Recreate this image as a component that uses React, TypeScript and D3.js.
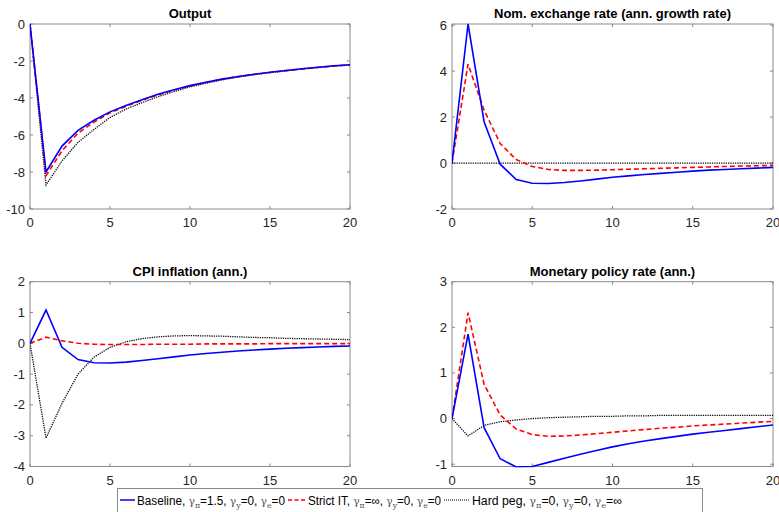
import React from 'react';
import * as d3 from 'd3';

const periods = [0, 1, 2, 3, 4, 5, 6, 7, 8, 9, 10, 11, 12, 13, 14, 15, 16, 17, 18, 19, 20];

const outputBaseline = [0, -8.0, -6.6, -5.75, -5.2, -4.75, -4.4, -4.1, -3.8, -3.55, -3.33, -3.15, -2.98, -2.84, -2.72, -2.61, -2.51, -2.42, -2.34, -2.26, -2.2];
const outputStrict = [0, -8.2, -6.85, -5.9, -5.3, -4.8, -4.45, -4.12, -3.83, -3.57, -3.35, -3.16, -2.99, -2.85, -2.73, -2.62, -2.52, -2.43, -2.35, -2.27, -2.21];
const outputPeg = [0, -8.7, -7.4, -6.4, -5.7, -5.05, -4.6, -4.25, -3.93, -3.65, -3.4, -3.2, -3.02, -2.87, -2.74, -2.63, -2.53, -2.44, -2.35, -2.28, -2.22];

const fxBaseline = [0, 6.05, 1.8, -0.05, -0.72, -0.88, -0.89, -0.85, -0.78, -0.7, -0.62, -0.56, -0.5, -0.45, -0.4, -0.35, -0.31, -0.28, -0.25, -0.22, -0.19];
const fxStrict = [0, 4.3, 2.3, 0.85, 0.15, -0.15, -0.28, -0.32, -0.32, -0.31, -0.29, -0.27, -0.25, -0.23, -0.21, -0.19, -0.17, -0.15, -0.13, -0.12, -0.1];
const fxPeg = [0, 0, 0, 0, 0, 0, 0, 0, 0, 0, 0, 0, 0, 0, 0, 0, 0, 0, 0, 0, 0];

const cpiBaseline = [0, 1.08, -0.13, -0.53, -0.63, -0.64, -0.61, -0.56, -0.5, -0.44, -0.38, -0.33, -0.29, -0.25, -0.22, -0.19, -0.16, -0.14, -0.12, -0.1, -0.09];
const cpiStrict = [0, 0.2, 0.08, 0.0, -0.03, -0.04, -0.04, -0.04, -0.03, -0.03, -0.03, -0.02, -0.02, -0.02, -0.02, -0.01, -0.01, -0.01, -0.01, -0.01, -0.01];
const cpiPeg = [0, -3.08, -1.95, -1.0, -0.45, -0.13, 0.05, 0.15, 0.21, 0.24, 0.25, 0.24, 0.23, 0.21, 0.19, 0.18, 0.16, 0.15, 0.14, 0.13, 0.12];

const rateBaseline = [0, 1.85, -0.2, -0.88, -1.06, -1.05, -0.96, -0.87, -0.78, -0.7, -0.62, -0.55, -0.49, -0.44, -0.39, -0.34, -0.3, -0.26, -0.22, -0.18, -0.14];
const rateStrict = [0, 2.32, 0.75, 0.08, -0.23, -0.35, -0.39, -0.38, -0.36, -0.33, -0.3, -0.27, -0.24, -0.21, -0.19, -0.16, -0.14, -0.12, -0.1, -0.08, -0.06];
const ratePeg = [0, -0.38, -0.15, -0.07, -0.03, 0.0, 0.02, 0.03, 0.04, 0.05, 0.05, 0.06, 0.06, 0.07, 0.07, 0.07, 0.07, 0.07, 0.07, 0.07, 0.07];

const xTicks = [0, 5, 10, 15, 20];
const outputTicks = [0, -2, -4, -6, -8, -10];
const fxTicks = [-2, 0, 2, 4, 6];
const cpiTicks = [2, 1, 0, -1, -2, -3, -4];
const rateTicks = [3, 2, 1, 0, -1];

const titles = ['Output', 'Nom. exchange rate (ann. growth rate)', 'CPI inflation (ann.)', 'Monetary policy rate (ann.)'];

const FONT = '"Liberation Sans", Arial, Helvetica, sans-serif';
const AXIS = '#8a8a8a';
const TXT = '#262626';

type Box = { x0: number; x1: number; y0: number; y1: number };

function Panel({ box, title, yDomain, yTicks, base, strict, peg, id }: {
  box: Box; title: string; yDomain: [number, number]; yTicks: number[];
  base: number[]; strict: number[]; peg: number[]; id: string;
}) {
  const x = d3.scaleLinear().domain([0, 20]).range([box.x0, box.x1]);
  const y = d3.scaleLinear().domain(yDomain).range([box.y1, box.y0]);
  const line = (vals: number[]) =>
    d3.line<number>().x((_, i) => x(periods[i])).y((v) => y(v))(vals) || '';
  const tl = 3;
  return (
    <g>
      <defs>
        <clipPath id={id}>
          <rect x={box.x0} y={box.y0 - 1} width={box.x1 - box.x0} height={box.y1 - box.y0 + 2} />
        </clipPath>
      </defs>
      <text x={(box.x0 + box.x1) / 2} y={box.y0 - 6} textAnchor="middle" fontFamily={FONT}
        fontSize={13} fontWeight="bold" fill="#000">{title}</text>
      <rect x={box.x0} y={box.y0} width={box.x1 - box.x0} height={box.y1 - box.y0}
        fill="#fff" stroke={AXIS} strokeWidth={1} />
      {xTicks.map((t) => (
        <g key={'x' + t}>
          <line x1={x(t)} x2={x(t)} y1={box.y1} y2={box.y1 - tl} stroke={AXIS} />
          <line x1={x(t)} x2={x(t)} y1={box.y0} y2={box.y0 + tl} stroke={AXIS} />
          <text x={x(t)} y={box.y1 + 18} textAnchor="middle" fontFamily={FONT} fontSize={13} fill={TXT}>{t}</text>
        </g>
      ))}
      {yTicks.map((t) => (
        <g key={'y' + t}>
          <line x1={box.x0} x2={box.x0 + tl} y1={y(t)} y2={y(t)} stroke={AXIS} />
          <line x1={box.x1} x2={box.x1 - tl} y1={y(t)} y2={y(t)} stroke={AXIS} />
          <text x={box.x0 - 5} y={y(t) + 4.5} textAnchor="end" fontFamily={FONT} fontSize={13} fill={TXT}>{t}</text>
        </g>
      ))}
      <g clipPath={`url(#${id})`} fill="none">
        <path d={line(peg)} stroke="#111" strokeWidth={1.3} strokeDasharray="1.3 1" />
        <path d={line(strict)} stroke="#ff0000" strokeWidth={1.6} strokeDasharray="5 3" />
        <path d={line(base)} stroke="#0000ff" strokeWidth={1.6} />
      </g>
    </g>
  );
}

function Gamma({ sub, rest }: { sub: string; rest: string }) {
  return (
    <>
      <tspan fontFamily='"DejaVu Serif", serif' fontSize={11} fill="#555">γ</tspan>
      <tspan dy={3.5} fontSize={8} fontFamily='"DejaVu Serif", serif' fill="#555">{sub}</tspan>
      <tspan dy={-3.5}>{rest}</tspan>
    </>
  );
}

export default function App() {
  const L = 30, R = 350, L2 = 452, R2 = 773;
  const T1 = 24, B1 = 209, T2 = 281.7, B2 = 466.5;
  return (
    <svg width={779} height={512} style={{ position: 'absolute', left: 0, top: 0, background: '#fff' }}>
      <rect x={0} y={0} width={779} height={512} fill="#fff" />
      <Panel id="c1" box={{ x0: L, x1: R, y0: T1, y1: B1 }} title={titles[0]} yDomain={[-10, 0]} yTicks={outputTicks}
        base={outputBaseline} strict={outputStrict} peg={outputPeg} />
      <Panel id="c2" box={{ x0: L2, x1: R2, y0: T1, y1: B1 }} title={titles[1]} yDomain={[-2, 6.05]} yTicks={fxTicks}
        base={fxBaseline} strict={fxStrict} peg={fxPeg} />
      <Panel id="c3" box={{ x0: L, x1: R, y0: T2, y1: B2 }} title={titles[2]} yDomain={[-4, 2]} yTicks={cpiTicks}
        base={cpiBaseline} strict={cpiStrict} peg={cpiPeg} />
      <Panel id="c4" box={{ x0: L2, x1: R2, y0: T2, y1: B2 }} title={titles[3]} yDomain={[-1.05, 3]} yTicks={rateTicks}
        base={rateBaseline} strict={rateStrict} peg={ratePeg} />
      <g>
        <rect x={117.5} y={488.5} width={585} height={30} fill="#fff" stroke={AXIS} strokeWidth={1} />
        <line x1={120} x2={135} y1={500} y2={500} stroke="#0000ff" strokeWidth={1.5} />
        <text x={137} y={504.5} fontFamily={FONT} fontSize={12} fill="#000" textLength={148} lengthAdjust="spacingAndGlyphs">
          Baseline, <Gamma sub="π" rest="=1.5, " /><Gamma sub="y" rest="=0, " /><Gamma sub="e" rest="=0" />
        </text>
        <line x1={288} x2={306} y1={500} y2={500} stroke="#ff0000" strokeWidth={1.5} strokeDasharray="4 2.5" />
        <text x={308} y={504.5} fontFamily={FONT} fontSize={12} fill="#000" textLength={133} lengthAdjust="spacingAndGlyphs">
          Strict IT,  <Gamma sub="π" rest="=∞, " /><Gamma sub="y" rest="=0, " /><Gamma sub="e" rest="=0" />
        </text>
        <line x1={444} x2={470} y1={500} y2={500} stroke="#000" strokeWidth={1} strokeDasharray="1 1" />
        <text x={472} y={504.5} fontFamily={FONT} fontSize={12} fill="#000" textLength={150} lengthAdjust="spacingAndGlyphs">
          Hard peg,  <Gamma sub="π" rest="=0, " /><Gamma sub="y" rest="=0, " /><Gamma sub="e" rest="=∞" />
        </text>
      </g>
    </svg>
  );
}
